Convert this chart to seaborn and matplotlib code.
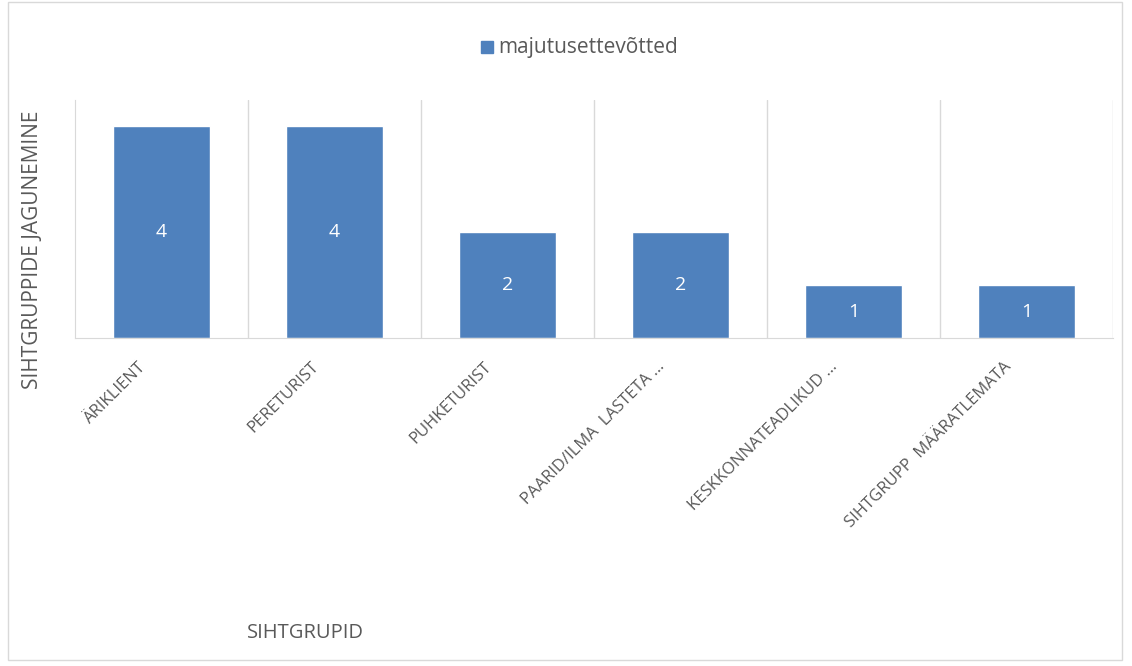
import matplotlib
matplotlib.use("Agg")
import matplotlib.pyplot as plt
import matplotlib.transforms as mtransforms
import seaborn as sns
import pandas as pd
from matplotlib.patches import Rectangle

categories = ["ÄRIKLIENT", "PERETURIST", "PUHKETURIST", "PAARID/ILMA  LASTETA …",
              "KESKKONNATEADLIKUD …", "SIHTGRUPP  MÄÄRATLEMATA"]
values = [4, 4, 2, 2, 1, 1]
series_name = "majutusettevõtted"
x_title = "SIHTGRUPID"
y_title = "SIHTGRUPPIDE JAGUNEMINE"

sns.set_style("white")
plt.rcParams['font.family'] = ['Open Sans', 'DejaVu Sans']

df = pd.DataFrame({"cat": categories, "val": values, "series": series_name})

fig = plt.figure(figsize=(11.32, 6.66), dpi=100)
ax = fig.add_axes([75/1132, 1-338/666, (1113-75)/1132, (338-100)/666])

bar_color = "#4f81bd"
text_c = "#595959"
sns.barplot(data=df, x="cat", y="val", hue="series", palette=[bar_color],
            width=0.56, ax=ax, legend=False, saturation=1)

ax.set_ylim(0, 4.5)
ax.set_xlim(-0.5, len(categories) - 0.5)
ax.set_yticks([])
ax.set_xlabel("")
ax.set_ylabel("")

grid_c = "#d9d9d9"
for b in range(1, len(categories) + 1):
    ax.axvline(b - 0.5, color=grid_c, lw=1, zorder=0)
for s in ["top", "right"]:
    ax.spines[s].set_visible(False)
ax.spines["left"].set_color(grid_c)
ax.spines["bottom"].set_color(grid_c)

for c in ax.containers:
    ax.bar_label(c, labels=[str(v) for v in values], label_type="center",
                 color="white", fontsize=14)

ax.tick_params(axis="x", length=0, pad=19)
ax.set_xticks(range(len(categories)))
ax.set_xticklabels(categories, rotation=45, ha="right", va="center",
                   rotation_mode="anchor", color=text_c, fontsize=12)
offset = mtransforms.ScaledTranslation(-18/100, 0, fig.dpi_scale_trans)
for lbl in ax.get_xticklabels():
    lbl.set_transform(lbl.get_transform() + offset)

# legend
fig.patches.append(Rectangle((481/1132, 1-53/666), 12/1132, 12/666,
                             transform=fig.transFigure, color=bar_color, figure=fig))
fig.text(498/1132, 1-47/666, series_name, ha="left", va="center",
         fontsize=15, color=text_c)

fig.text(33/1132, 1-250/666, y_title, rotation=90, ha="center", va="center",
         fontsize=15, color=text_c)
fig.text(305/1132, 1-633/666, x_title, ha="center", va="center",
         fontsize=14.5, color=text_c)

fig.patches.append(Rectangle((8/1132, 6/666), 1114/1132, 658/666, fill=False,
                             edgecolor="#d9d9d9", lw=1, transform=fig.transFigure,
                             figure=fig))

fig.savefig("out.png", dpi=100)
